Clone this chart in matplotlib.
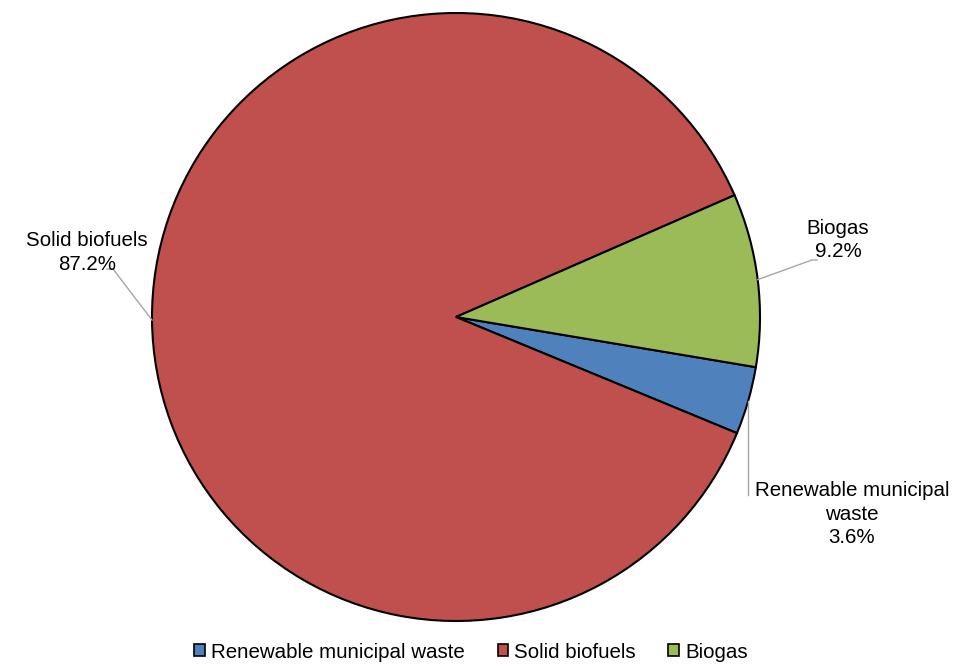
import matplotlib.pyplot as plt
from matplotlib.patches import Patch
import numpy as np

plt.rcParams['font.family'] = ['Liberation Sans', 'DejaVu Sans']

categories = ['Renewable municipal waste', 'Solid biofuels', 'Biogas']
shares = [3.6, 87.2, 9.2]
colors = ['#4F81BD', '#C0504D', '#9BBB59']

fig = plt.figure(figsize=(9.56, 6.66), dpi=100)
ax = fig.add_axes([0, 0, 1, 1])

cx, cy, r = 456, 349, 304
wedges, _ = ax.pie(shares, colors=colors, startangle=-9.5, counterclock=False,
                   center=(cx, cy), radius=r, frame=True,
                   wedgeprops=dict(edgecolor='black', linewidth=1.5))
ax.set_xlim(0, 956)
ax.set_ylim(0, 666)
ax.set_aspect('equal')
ax.axis('off')

# edge points at wedge mid angles for the leader lines
def edge_point(w):
    a = np.deg2rad((w.theta1 + w.theta2) / 2)
    return cx + r * np.cos(a), cy + r * np.sin(a)

lc = '#A6A6A6'
fs = 14.8
ls = 1.28

# Renewable municipal waste
x0, y0 = edge_point(wedges[0])
ax.plot([x0, x0], [y0, 171], color=lc, lw=1)
name = categories[0].rsplit(' ', 1)
ax.text(852, 152, f'{name[0]}\n{name[1]}\n{shares[0]}%',
        ha='center', va='center', fontsize=fs, linespacing=ls)

# Solid biofuels
x0, y0 = edge_point(wedges[1])
ax.plot([x0, 113, 107], [y0, 397, 397], color=lc, lw=1)
ax.text(87, 413.5, f'{categories[1]}\n{shares[1]}%', ha='center', va='center',
        fontsize=fs, linespacing=ls)

# Biogas
x0, y0 = edge_point(wedges[2])
ax.plot([x0, 812, 817], [y0, 406, 406], color=lc, lw=1)
ax.text(838, 426, f'{categories[2]}\n{shares[2]}%', ha='center', va='center',
        fontsize=fs, linespacing=ls)

handles = [Patch(facecolor=c, edgecolor='black', lw=1.2) for c in colors]
ax.legend(handles, categories, loc='center', bbox_to_anchor=(471 / 956, 14 / 666),
          ncol=3, frameon=False, fontsize=fs, handlelength=0.5, handleheight=0.5,
          handletextpad=0.3, columnspacing=1.6, borderpad=0)

fig.savefig('out.png', dpi=100)
